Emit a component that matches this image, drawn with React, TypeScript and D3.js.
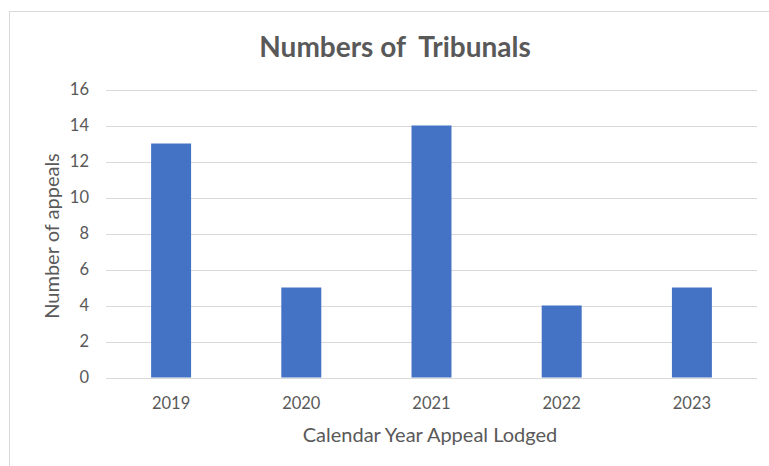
import React, { useRef, useEffect } from 'react';
import * as d3 from 'd3';

const years = ['2019', '2020', '2021', '2022', '2023'];
const appeals = [13, 5, 14, 4, 5];
const yTicks = [0, 2, 4, 6, 8, 10, 12, 14, 16];

const W = 769;
const H = 466;
const FONT = 'Lato, "Open Sans", sans-serif';
const TEXT = '#595959';

const App: React.FC = () => {
    const svgRef = useRef<SVGSVGElement>(null);

    useEffect(() => {
        if (!svgRef.current) return;
        const svg = d3.select(svgRef.current);
        svg.selectAll('*').remove();

        const left = 106, right = 757, top = 89.5, bottom = 377.5;

        // chart frame, runs off the right/bottom edges
        svg.append('rect')
            .attr('x', 9.5).attr('y', 11.5)
            .attr('width', 800).attr('height', 500)
            .attr('fill', '#fff')
            .attr('stroke', '#d9d9d9');

        const x = d3.scaleBand<string>()
            .domain(years)
            .range([left, right])
            .paddingInner(0.693)
            .paddingOuter(0.3465);

        const y = d3.scaleLinear().domain([0, 16]).range([bottom, top]);

        // gridlines
        svg.append('g')
            .selectAll('line')
            .data(yTicks)
            .join('line')
            .attr('x1', left).attr('x2', right)
            .attr('y1', d => Math.round(y(d)) + 0.5)
            .attr('y2', d => Math.round(y(d)) + 0.5)
            .attr('stroke', '#d9d9d9')
            .attr('stroke-width', 1);

        // y tick labels
        svg.append('g')
            .selectAll('text')
            .data(yTicks)
            .join('text')
            .attr('x', 89)
            .attr('y', d => y(d))
            .attr('dy', '0.35em')
            .attr('text-anchor', 'end')
            .attr('font-family', FONT)
            .attr('font-size', 16.5)
            .attr('fill', TEXT)
            .text(d => d);

        // bars
        svg.append('g')
            .selectAll('rect')
            .data(appeals)
            .join('rect')
            .attr('x', (_, i) => x(years[i])!)
            .attr('width', x.bandwidth())
            .attr('y', d => y(d))
            .attr('height', d => y(0) - y(d))
            .attr('fill', '#4472c4');

        // x tick labels
        svg.append('g')
            .selectAll('text')
            .data(years)
            .join('text')
            .attr('x', d => x(d)! + x.bandwidth() / 2)
            .attr('y', 403)
            .attr('dy', '0.35em')
            .attr('text-anchor', 'middle')
            .attr('font-family', FONT)
            .attr('font-size', 16.5)
            .attr('fill', TEXT)
            .text(d => d);

        svg.append('text')
            .attr('x', 430).attr('y', 435)
            .attr('dy', '0.35em')
            .attr('text-anchor', 'middle')
            .attr('font-family', FONT)
            .attr('font-size', 20)
            .attr('fill', TEXT)
            .text('Calendar Year Appeal Lodged');

        svg.append('text')
            .attr('transform', 'translate(52,236) rotate(-90)')
            .attr('dy', '0.35em')
            .attr('text-anchor', 'middle')
            .attr('font-family', FONT)
            .attr('font-size', 20)
            .attr('fill', TEXT)
            .text('Number of appeals');

        svg.append('text')
            .attr('x', 395).attr('y', 47)
            .attr('dy', '0.35em')
            .attr('text-anchor', 'middle')
            .attr('font-family', FONT)
            .attr('font-size', 28)
            .attr('font-weight', 'bold')
            .attr('fill', TEXT)
            .attr('xml:space', 'preserve')
            .style('white-space', 'pre')
            .text('Numbers of  Tribunals');
    }, []);

    return (
        <svg
            ref={svgRef}
            width={W}
            height={H}
            style={{ position: 'absolute', left: 0, top: 0, background: '#fff' }}
        />
    );
};

export default App;
